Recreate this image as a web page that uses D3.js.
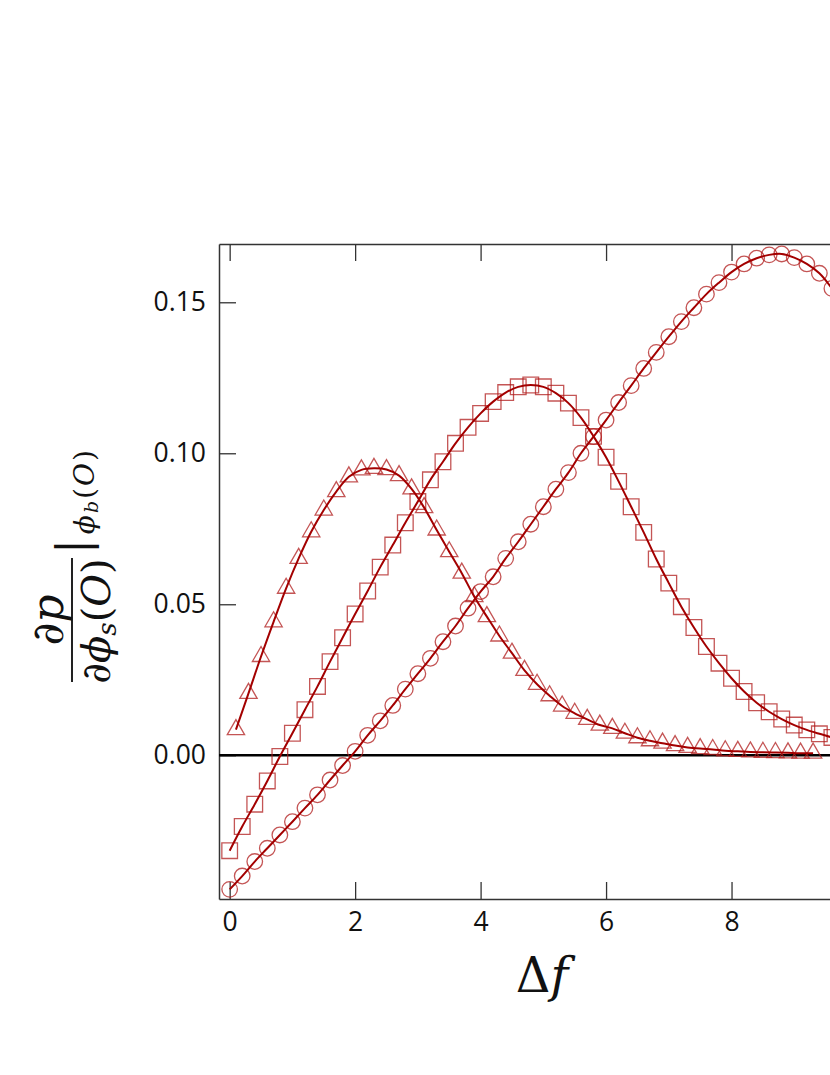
<!DOCTYPE html>
<html>
<head>
<meta charset="utf-8">
<script src="https://cdn.jsdelivr.net/npm/d3@7"></script>
<style>
  body { margin: 0; background: #fff; }
  .axis .domain { stroke: #333; stroke-width: 1.5; }
  .axis .tick line { stroke: #333; stroke-width: 1.3; }
  .axis text { font-family: "Open Sans", sans-serif; font-size: 26.5px; fill: #111; }
  .math { font-family: "DejaVu Serif", serif; fill: #111; }
</style>
</head>
<body>
<svg id="chart" width="830" height="1075"></svg>
<script>
// x positions shared by circles and squares
var xGrid = [0, 0.2, 0.4, 0.6, 0.8, 1.0, 1.2, 1.4, 1.6, 1.8, 2.0, 2.2, 2.4, 2.6, 2.8, 3.0,
  3.2, 3.4, 3.6, 3.8, 4.0, 4.2, 4.4, 4.6, 4.8, 5.0, 5.2, 5.4, 5.6, 5.8, 6.0, 6.2, 6.4,
  6.6, 6.8, 7.0, 7.2, 7.4, 7.6, 7.8, 8.0, 8.2, 8.4, 8.6, 8.8, 9.0, 9.2, 9.4, 9.6];
var circleVals = [-0.0444, -0.0400, -0.0352, -0.0308, -0.0264, -0.0220, -0.0175, -0.0131,
  -0.0082, -0.0034, 0.0013, 0.0066, 0.0114, 0.0165, 0.0219, 0.0270, 0.0321, 0.0376,
  0.0428, 0.0487, 0.0542, 0.0591, 0.0652, 0.0707, 0.0765, 0.0823, 0.0881, 0.0936,
  0.1000, 0.1055, 0.1110, 0.1168, 0.1224, 0.1281, 0.1334, 0.1386, 0.1436, 0.1482,
  0.1527, 0.1565, 0.1600, 0.1627, 0.1646, 0.1657, 0.1660, 0.1648, 0.1627, 0.1596, 0.1546];
var squareVals = [-0.0316, -0.0236, -0.0162, -0.0085, -0.0004, 0.0073, 0.0151, 0.0228,
  0.0310, 0.0389, 0.0468, 0.0544, 0.0623, 0.0696, 0.0770, 0.0840, 0.0912, 0.0972,
  0.1033, 0.1086, 0.1132, 0.1171, 0.1201, 0.1220, 0.1226, 0.1220, 0.1199, 0.1166,
  0.1118, 0.1056, 0.0987, 0.0907, 0.0823, 0.0738, 0.0650, 0.0570, 0.0492, 0.0423,
  0.0360, 0.0305, 0.0255, 0.0211, 0.0174, 0.0144, 0.0120, 0.0100, 0.0084, 0.0071, 0.0059];
// triangles sit half a step later
var triX = [0.1, 0.3, 0.5, 0.7, 0.9, 1.1, 1.3, 1.5, 1.7, 1.9, 2.1, 2.3, 2.5, 2.7, 2.9,
  3.1, 3.3, 3.5, 3.7, 3.9, 4.1, 4.3, 4.5, 4.7, 4.9, 5.1, 5.3, 5.5, 5.7, 5.9, 6.1, 6.3,
  6.5, 6.7, 6.9, 7.1, 7.3, 7.5, 7.7, 7.9, 8.1, 8.3, 8.5, 8.7, 8.9, 9.1, 9.3];
var triVals = [0.0085, 0.0205, 0.0327, 0.0442, 0.0553, 0.0652, 0.0740, 0.0812, 0.0873,
  0.0922, 0.0945, 0.0950, 0.0946, 0.0926, 0.0882, 0.0820, 0.0746, 0.0674, 0.0603,
  0.0525, 0.0459, 0.0395, 0.0338, 0.0281, 0.0235, 0.0197, 0.0163, 0.0139, 0.0119,
  0.0100, 0.0089, 0.0073, 0.0058, 0.0048, 0.0040, 0.0032, 0.0026, 0.0022, 0.0019,
  0.0015, 0.0013, 0.0011, 0.0010, 0.0009, 0.0008, 0.0007, 0.0007];
var xTicks = [0, 2, 4, 6, 8];
var yTicks = [0, 0.05, 0.10, 0.15];

// plot box
var svg = d3.select("#chart"),
  margin = {top: 244, left: 219},
  width = 638,
  height = 655;

var x = d3.scaleLinear().domain([-0.17, 10.0]).range([0, width]),
    y = d3.scaleLinear().domain([-0.0476, 0.1693]).range([height, 0]);

var g = svg.append("g")
  .attr("transform", "translate(" + margin.left + "," + margin.top + ")");

svg.append("defs").append("clipPath").attr("id", "plotclip")
  .append("rect").attr("width", width).attr("height", height);

// axes, ticks pointing inward
g.append("g")
  .attr("class", "axis")
  .attr("transform", "translate(0," + height + ")")
  .call(d3.axisBottom(x).tickValues(xTicks).tickSize(-17).tickSizeOuter(0)
    .tickPadding(13).tickFormat(d3.format("d")));
g.append("g")
  .attr("class", "axis")
  .call(d3.axisTop(x).tickValues(xTicks).tickSize(-17).tickSizeOuter(0).tickFormat(""));
g.append("g")
  .attr("class", "axis")
  .call(d3.axisLeft(y).tickValues(yTicks).tickSize(-17).tickSizeOuter(0)
    .tickPadding(13).tickFormat(d3.format(".2f")));
g.append("g")
  .attr("class", "axis")
  .attr("transform", "translate(" + width + ",0)")
  .call(d3.axisRight(y).tickValues(yTicks).tickSize(-17).tickSizeOuter(0).tickFormat(""));

var plot = g.append("g").attr("clip-path", "url(#plotclip)");

// zero line
plot.append("line")
  .attr("x1", 0).attr("x2", width)
  .attr("y1", y(0)).attr("y2", y(0))
  .attr("stroke", "#000").attr("stroke-width", 2.6);

var series = [
  {xs: xGrid, ys: circleVals, shape: d3.symbolCircle, size: 190},
  {xs: xGrid, ys: squareVals, shape: d3.symbolSquare, size: 245},
  {xs: triX, ys: triVals, shape: d3.symbolTriangle, size: 130}
];

var line = d3.line()
  .x(function(d) { return x(d[0]); })
  .y(function(d) { return y(d[1]); })
  .curve(d3.curveCatmullRom);

// markers first, fitted curve on top
series.forEach(function(s) {
  var pts = s.xs.map(function(v, i) { return [v, s.ys[i]]; });
  plot.append("g").selectAll("path")
      .data(pts)
    .enter().append("path")
      .attr("transform", function(d) { return "translate(" + x(d[0]) + "," + y(d[1]) + ")"; })
      .attr("d", d3.symbol().type(s.shape).size(s.size))
      .attr("fill", "none")
      .attr("stroke", "#b01c1c")
      .attr("stroke-opacity", 0.75)
      .attr("stroke-width", 1.3);
  s.pts = pts;
});
series.forEach(function(s) {
  plot.append("path")
    .datum(s.pts)
    .attr("d", line)
    .attr("fill", "none")
    .attr("stroke", "#a30000")
    .attr("stroke-width", 2);
});

// x title
var xt = svg.append("text")
  .attr("class", "math")
  .attr("x", 542).attr("y", 992)
  .attr("text-anchor", "middle")
  .style("font-size", "48px");
xt.append("tspan").text("Δ");
xt.append("tspan").style("font-style", "italic").text("f");

// y title, a rotated fraction
var yt = svg.append("g")
  .attr("class", "math")
  .attr("transform", "translate(72,620) rotate(-90)");
yt.append("line")
  .attr("x1", -62).attr("x2", 62).attr("y1", 0).attr("y2", 0)
  .attr("stroke", "#222").attr("stroke-width", 2);
var num = yt.append("text")
  .attr("text-anchor", "middle").attr("y", -9)
  .style("font-size", "44px");
num.append("tspan").text("∂");
num.append("tspan").style("font-style", "italic").text("p");
var den = yt.append("text")
  .attr("text-anchor", "middle").attr("x", -1).attr("y", 38)
  .style("font-size", "40px");
den.append("tspan").text("∂");
den.append("tspan").style("font-style", "italic").text("ϕ");
den.append("tspan").style("font-style", "italic").style("font-size", "26px").attr("dy", 6).text("s");
den.append("tspan").attr("dy", -6).text("(");
den.append("tspan").style("font-style", "italic").text("O");
den.append("tspan").text(")");
var sub = yt.append("text")
  .attr("x", 66).attr("y", 16)
  .style("font-size", "28px")
  .style("letter-spacing", "2px");
sub.append("tspan").style("font-size", "44px").text("|");
sub.append("tspan").style("font-style", "italic").attr("dx", 3).attr("dy", 6).text("ϕ");
sub.append("tspan").style("font-style", "italic").style("font-size", "19px").attr("dy", 4).text("b");
sub.append("tspan").attr("dy", -4).text("(");
sub.append("tspan").style("font-style", "italic").text("O");
sub.append("tspan").text(")");
</script>
</body>
</html>
